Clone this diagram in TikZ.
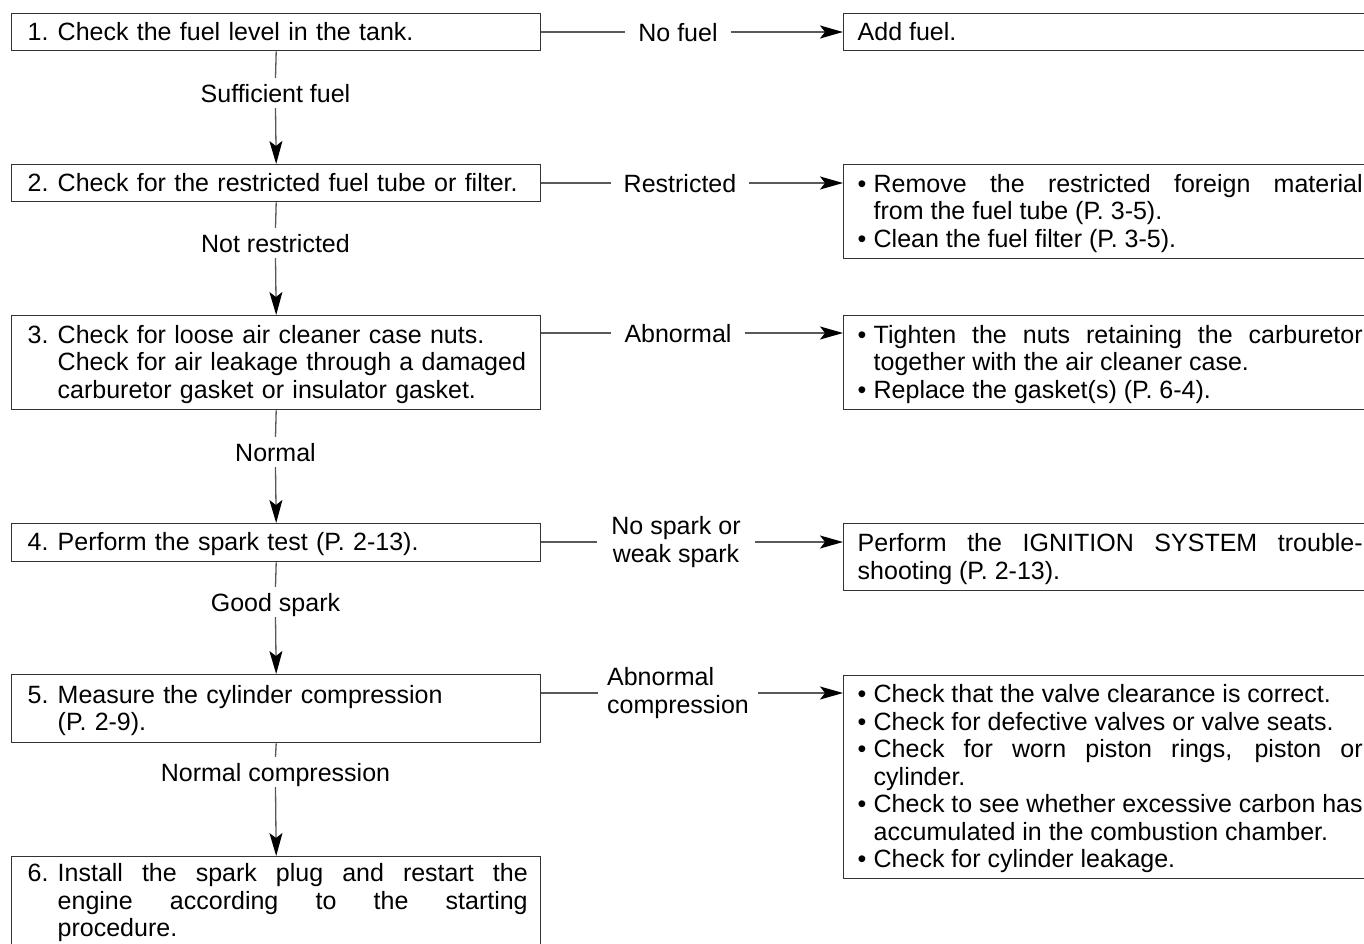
\documentclass[tikz,border=0pt]{standalone}
\usepackage{fontspec}
\setmainfont{Liberation Sans}
\usetikzlibrary{arrows.meta}
\newcommand\sst{\rule[-5.5pt]{0pt}{27.5pt}}
\newcommand\stepnum[3][\raggedright]{\makebox[30pt][l]{\sst#2}\parbox[t]{470pt}{#1\sst#3\sst}}
\newcommand\bul[1]{\noindent\makebox[16pt][l]{\sst\textbullet}\parbox[t]{489pt}{\sst#1\sst}}
\newcommand\justi{\leftskip=0pt\rightskip=0pt\parfillskip=0pt plus 1fil\relax}
\begin{document}
\begin{tikzpicture}[x=1pt,y=-1pt,
  font={\fontsize{25}{27.5}\selectfont\lineskip=0pt},
  lbox/.style={draw=black!80, line width=1.4pt, anchor=north west, inner xsep=16pt, inner ysep=0pt, text width=497pt, align=left},
  rbox/.style={draw=black!80, line width=1.4pt, anchor=north west, inner xsep=14pt, inner ysep=0pt, text width=505pt, align=justify},
  vlab/.style={inner xsep=2pt, inner ysep=6pt, text height=18pt, text depth=0pt},
  hlab/.style={inner xsep=13pt, inner ysep=0pt, text height=18pt, text depth=0pt},
  hlabtwo/.style={inner xsep=10pt, inner ysep=0pt},
  con/.style={draw=black!65, line width=1.3pt},
  arr/.style={con, -{Stealth[length=23pt,width=13pt,inset=5pt,black]}}]
\useasboundingbox (0,0) rectangle (1364,943);
\fill[white] (0,0) rectangle (1364,943);

% left column
\node[lbox, minimum height=37pt] (b1) at (11,13) {\stepnum{1.}{Check the fuel level in the tank.}};
\node[lbox, minimum height=37pt] (b2) at (11,164) {\stepnum{2.}{Check for the restricted fuel tube or filter.}};
\node[lbox, minimum height=94pt] (b3) at (11,315) {\stepnum{3.}{Check for loose air cleaner case nuts.\\ Check for air leakage through a damaged\\ carburetor gasket or insulator gasket.}};
\node[lbox, minimum height=38pt] (b4) at (11,523) {\stepnum{4.}{Perform the spark test (P. 2-13).}};
\node[lbox, minimum height=68pt] (b5) at (11,674) {\stepnum{5.}{Measure the cylinder compression\\ (P. 2-9).}};
\node[lbox, minimum height=89pt, align=justify] (b6) at (11,856) {\stepnum[\justi]{6.}{Install the spark plug and restart the\linebreak engine according to the starting\linebreak procedure.}};

% right column
\node[rbox, minimum height=37pt] (r1) at (843,13) {\sst Add fuel.\sst};
\node[rbox, minimum height=94pt] (r2) at (843,164) {\bul{Remove the restricted foreign material\linebreak from the fuel tube (P. 3-5).}\par\bul{Clean the fuel filter (P. 3-5).}};
\node[rbox, minimum height=94pt] (r3) at (843,315) {\bul{Tighten the nuts retaining the carburetor\linebreak together with the air cleaner case.}\par\bul{Replace the gasket(s) (P. 6-4).}};
\node[rbox, minimum height=67pt] (r4) at (843,523) {\sst Perform the IGNITION SYSTEM trouble-\linebreak shooting (P. 2-13).\sst};
\node[rbox, minimum height=203pt] (r5) at (843,675) {\bul{Check that the valve clearance is correct.}\par\bul{Check for defective valves or valve seats.}\par\bul{Check for worn piston rings, piston or\linebreak cylinder.}\par\bul{Check to see whether excessive carbon has\linebreak accumulated in the combustion chamber.}\par\bul{Check for cylinder leakage.}};

% vertical labels and connectors
\node[vlab] (v1) at (275.5,93) {Sufficient fuel};
\node[vlab] (v2) at (275.5,243) {Not restricted};
\node[vlab] (v3) at (275.5,452) {Normal};
\node[vlab] (v4) at (275.5,602) {Good spark};
\node[vlab] (v5) at (275.5,772) {Normal compression};
\draw[con] (b1.south) -- (v1.north);
\draw[arr] (v1.south) -- (b2.north);
\draw[con] (b2.south) -- (v2.north);
\draw[arr] (v2.south) -- (b3.north);
\draw[con] (b3.south) -- (v3.north);
\draw[arr] (v3.south) -- (b4.north);
\draw[con] (b4.south) -- (v4.north);
\draw[arr] (v4.south) -- (b5.north);
\draw[con] (b5.south) -- (v5.north);
\draw[arr] (v5.south) -- (b6.north);

% horizontal labels and connectors
\node[hlab] (h1) at (678,32) {No fuel};
\node[hlab] (h2) at (680,183) {Restricted};
\node[hlab] (h3) at (678,333) {Abnormal};
\node[hlabtwo, align=center, inner xsep=14pt] (h4) at (676,542) {No spark or\\weak spark};
\node[hlabtwo, align=left, inner xsep=9pt] (h5) at (678,693) {Abnormal\\compression};
\foreach \i in {1,...,5}{
  \draw[con] (h\i.west -| b\i.east) -- (h\i.west);
  \draw[arr] (h\i.east) -- (h\i.east -| r\i.west);
}
\end{tikzpicture}
\end{document}
